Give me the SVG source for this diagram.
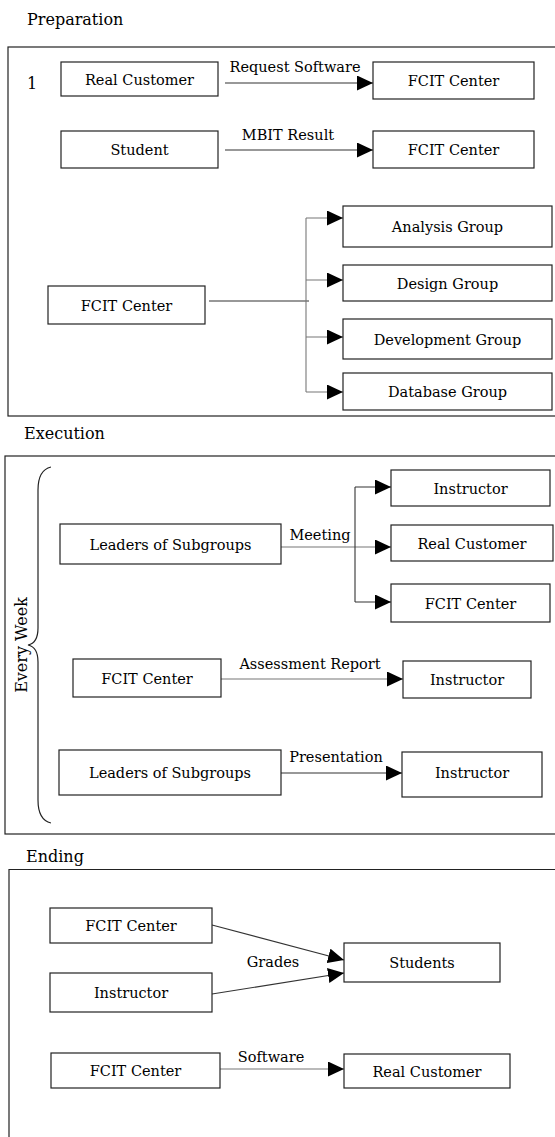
<svg xmlns="http://www.w3.org/2000/svg" width="555" height="1137" viewBox="0 0 555 1137">
<style>
text{font-family:'DejaVu Serif',serif;fill:#000}
.t{font-size:14.5px;text-anchor:middle}
.h{font-size:16px}
.l{font-size:14.5px;text-anchor:middle}
.box{fill:#fff;stroke:#222;stroke-width:1.2}
.frame{fill:none;stroke:#222;stroke-width:1.2}
.c{fill:none;stroke:#333;stroke-width:1.1}
.g{fill:none;stroke:#777;stroke-width:1.1}
</style>
<defs>
<marker id="ah" markerUnits="userSpaceOnUse" markerWidth="16" markerHeight="15" refX="16" refY="7.5" orient="auto">
<path d="M0,0 L16,7.5 L0,15 Z" fill="#000"/>
</marker>
</defs>
<rect width="555" height="1137" fill="#fff"/>
<g id="frames">
<text class="h" x="27" y="25">Preparation</text>
<rect class="frame" x="8" y="47" width="560" height="369"/>
<text class="h" x="24" y="439">Execution</text>
<rect class="frame" x="5" y="456" width="560" height="378"/>
<text class="h" x="26" y="862">Ending</text>
<path class="frame" d="M9,1140 L9,869.5 L560,869.5"/>
<text class="h" x="27" y="89" font-size="17">1</text>
<path id="brace" class="frame" d="M51,467 Q38,470 38,490 L38,628 Q38,643 28,645 Q38,647 38,662 L38,800 Q38,820 51,823"/>
<text class="h" text-anchor="middle" transform="translate(27,645) rotate(-90)">Every Week</text>
</g>
<g id="connectors">
<line class="c" x1="225" y1="83" x2="373" y2="83" marker-end="url(#ah)"/>
<text class="l" x="295" y="72">Request Software</text>
<line class="c" x1="225" y1="150" x2="373" y2="150" marker-end="url(#ah)"/>
<text class="l" x="288" y="140">MBIT Result</text>
<line class="c" x1="209" y1="301" x2="309" y2="301"/>
<line class="g" x1="306" y1="218" x2="306" y2="392"/>
<line class="g" x1="306" y1="218" x2="343" y2="218" marker-end="url(#ah)"/>
<line class="g" x1="306" y1="280" x2="343" y2="280" marker-end="url(#ah)"/>
<line class="g" x1="306" y1="337" x2="343" y2="337" marker-end="url(#ah)"/>
<line class="g" x1="306" y1="392" x2="343" y2="392" marker-end="url(#ah)"/>
<line class="g" x1="281" y1="547" x2="391" y2="547" marker-end="url(#ah)"/>
<line class="c" x1="355" y1="487" x2="355" y2="602"/>
<line class="c" x1="355" y1="487" x2="391" y2="487" marker-end="url(#ah)"/>
<line class="c" x1="355" y1="602" x2="391" y2="602" marker-end="url(#ah)"/>
<text class="l" x="320" y="540">Meeting</text>
<line class="g" x1="221" y1="679" x2="403" y2="679" marker-end="url(#ah)"/>
<text class="l" x="310" y="669">Assessment Report</text>
<line class="c" x1="281" y1="773" x2="402" y2="773" marker-end="url(#ah)"/>
<text class="l" x="336" y="762">Presentation</text>
<line class="c" x1="212" y1="925" x2="344" y2="960" marker-end="url(#ah)"/>
<line class="c" x1="212" y1="994" x2="344" y2="973" marker-end="url(#ah)"/>
<text class="l" x="273" y="967">Grades</text>
<line class="g" x1="220" y1="1069" x2="344" y2="1069" marker-end="url(#ah)"/>
<text class="l" x="271" y="1062">Software</text>
</g>
<g id="n1"><rect class="box" x="61" y="62" width="157" height="34"/><text class="t" x="139.5" y="84.5">Real Customer</text></g>
<g id="n2"><rect class="box" x="373" y="62" width="161" height="37"/><text class="t" x="453.5" y="86">FCIT Center</text></g>
<g id="n3"><rect class="box" x="61" y="131" width="157" height="37"/><text class="t" x="139.5" y="155">Student</text></g>
<g id="n4"><rect class="box" x="373" y="131" width="161" height="37"/><text class="t" x="453.5" y="155">FCIT Center</text></g>
<g id="n5"><rect class="box" x="48" y="286" width="157" height="38"/><text class="t" x="126.5" y="310.5">FCIT Center</text></g>
<g id="n6"><rect class="box" x="343" y="206" width="209" height="41"/><text class="t" x="447.5" y="231.5">Analysis Group</text></g>
<g id="n7"><rect class="box" x="343" y="265" width="209" height="36"/><text class="t" x="447.5" y="288.5">Design Group</text></g>
<g id="n8"><rect class="box" x="343" y="319" width="209" height="40"/><text class="t" x="447.5" y="344.5">Development Group</text></g>
<g id="n9"><rect class="box" x="343" y="373" width="209" height="37"/><text class="t" x="447.5" y="397">Database Group</text></g>
<g id="n10"><rect class="box" x="391" y="470" width="159" height="36"/><text class="t" x="470.5" y="493.5">Instructor</text></g>
<g id="n11"><rect class="box" x="391" y="525" width="162" height="36"/><text class="t" x="472" y="548.5">Real Customer</text></g>
<g id="n12"><rect class="box" x="391" y="584" width="159" height="38"/><text class="t" x="470.5" y="608.5">FCIT Center</text></g>
<g id="n13"><rect class="box" x="60" y="524" width="221" height="40"/><text class="t" x="170.5" y="549.5">Leaders of Subgroups</text></g>
<g id="n14"><rect class="box" x="73" y="659" width="148" height="38"/><text class="t" x="147" y="683.5">FCIT Center</text></g>
<g id="n15"><rect class="box" x="403" y="661" width="128" height="37"/><text class="t" x="467" y="685">Instructor</text></g>
<g id="n16"><rect class="box" x="59" y="750" width="222" height="45"/><text class="t" x="170" y="778">Leaders of Subgroups</text></g>
<g id="n17"><rect class="box" x="402" y="752" width="140" height="45"/><text class="t" x="472" y="777.5">Instructor</text></g>
<g id="n18"><rect class="box" x="50" y="908" width="162" height="35"/><text class="t" x="131" y="931">FCIT Center</text></g>
<g id="n19"><rect class="box" x="50" y="973" width="162" height="39"/><text class="t" x="131" y="998">Instructor</text></g>
<g id="n20"><rect class="box" x="344" y="943" width="156" height="39"/><text class="t" x="422" y="968">Students</text></g>
<g id="n21"><rect class="box" x="51" y="1053" width="169" height="35"/><text class="t" x="135.5" y="1076">FCIT Center</text></g>
<g id="n22"><rect class="box" x="344" y="1054" width="166" height="34"/><text class="t" x="427" y="1076.5">Real Customer</text></g>
</svg>
